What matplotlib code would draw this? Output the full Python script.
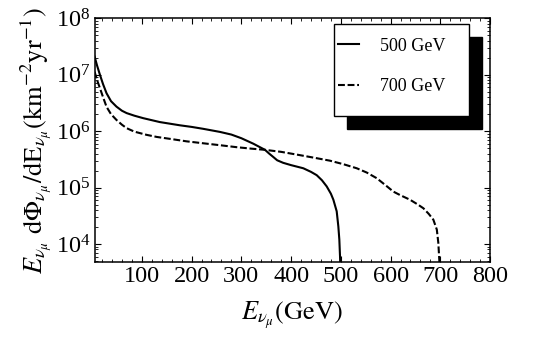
import numpy as np
import matplotlib
matplotlib.use("Agg")
import matplotlib.pyplot as plt
from matplotlib.patches import Rectangle
from matplotlib.ticker import MultipleLocator, LogLocator, NullFormatter

plt.rcParams['font.family'] = ['Liberation Serif', 'DejaVu Serif']
plt.rcParams['mathtext.fontset'] = 'stix'

# neutrino energy (GeV) and flux E dPhi/dE (km^-2 yr^-1)
e500 = [5, 10, 15.7, 22, 29, 38, 49, 60, 69.4, 85, 102.7, 136, 176.6, 200,
        223.4, 257, 280, 300, 324, 347.5, 356, 364, 372, 384, 400, 424.6, 440,
        451.5, 462, 471.6, 480, 485, 491.7, 495, 497, 498.4, 499.5]
f500 = [2.1e7, 1.45e7, 1.0e7, 6.8e6, 4.7e6, 3.4e6, 2.72e6, 2.3e6, 2.09e6,
        1.88e6, 1.70e6, 1.45e6, 1.27e6, 1.19e6, 1.1e6, 9.7e5, 8.7e5, 7.5e5,
        6.0e5, 4.67e5, 4.0e5, 3.5e5, 3.05e5, 2.75e5, 2.5e5, 2.2e5, 1.9e5,
        1.66e5, 1.35e5, 1.05e5, 7.8e4, 6.1e4, 3.8e4, 2.05e4, 1.2e4, 6.0e3, 3.0e3]

e700 = [5, 10, 15.7, 22, 29, 38, 49, 60, 69.4, 85, 109.6, 130, 156.8, 190,
        223.4, 260, 290.6, 320, 347.5, 380, 411, 445, 478, 505, 532, 552, 572,
        590, 605.5, 620, 639, 655, 666, 677, 686, 693, 696, 698, 699.5]
f700 = [1.13e7, 8.0e6, 5.8e6, 4.0e6, 2.7e6, 2.0e6, 1.58e6, 1.3e6, 1.13e6,
        9.8e5, 8.6e5, 7.9e5, 7.3e5, 6.6e5, 6.1e5, 5.6e5, 5.2e5, 4.9e5,
        4.67e5, 4.3e5, 3.85e5, 3.4e5, 3.0e5, 2.6e5, 2.2e5, 1.85e5, 1.47e5,
        1.1e5, 8.5e4, 7.3e4, 6.1e4, 5.0e4, 4.3e4, 3.4e4, 2.7e4, 1.8e4,
        1.05e4, 5.2e3, 3.0e3]

fig = plt.figure(figsize=(5.5, 3.5), dpi=100)
ax = fig.add_axes([0.172, 0.2514, 0.719, 0.6963])

ax.plot(e500, f500, color='black', lw=1.5, label='500 GeV')
ax.plot(e700, f700, color='black', lw=1.5, dashes=(3.3, 1.3), label='700 GeV')

ax.set_yscale('log')
ax.set_xlim(5, 800)
ax.set_ylim(4.8e3, 1e8)
ax.set_xticks([100, 200, 300, 400, 500, 600, 700, 800])
ax.xaxis.set_minor_locator(MultipleLocator(20))
ax.yaxis.set_minor_locator(LogLocator(base=10, subs=np.arange(2, 10)))
ax.yaxis.set_minor_formatter(NullFormatter())
ax.tick_params(which='both', direction='in', top=True, right=True, labelsize=17.5)
ax.tick_params(which='major', length=4.5, width=0.8, pad=3)
ax.tick_params(which='minor', length=2.2, width=0.6)
for s in ax.spines.values():
    s.set_linewidth(1.1)

ax.set_xlabel(r'$E_{\nu_\mu}(\mathrm{GeV})$', fontsize=19, labelpad=9)
ax.set_ylabel(r'$E_{\nu_\mu}\ \mathrm{d}\Phi_{\nu_\mu}/\mathrm{d}\mathrm{E}_{\nu_\mu}(\mathrm{km}^{-2}\mathrm{yr}^{-1})$',
              fontsize=19, labelpad=1)

# legend box with a solid black drop shadow
fig.add_artist(Rectangle((0.6304, 0.6306), 0.2455, 0.2646, transform=fig.transFigure,
                         facecolor='black', edgecolor='black', zorder=3))
fig.add_artist(Rectangle((0.6078, 0.6694), 0.2455, 0.2611, transform=fig.transFigure,
                         facecolor='white', edgecolor='black', lw=1, zorder=4))
h, l = ax.get_legend_handles_labels()
leg = fig.legend(h, l, loc='upper left', bbox_to_anchor=(0.6145, 0.8926),
                 frameon=False, fontsize=13, borderpad=0, handlelength=1.16,
                 handletextpad=1.16, labelspacing=1.29, borderaxespad=0)
leg.set_zorder(5)

fig.savefig('out.png', dpi=100)
